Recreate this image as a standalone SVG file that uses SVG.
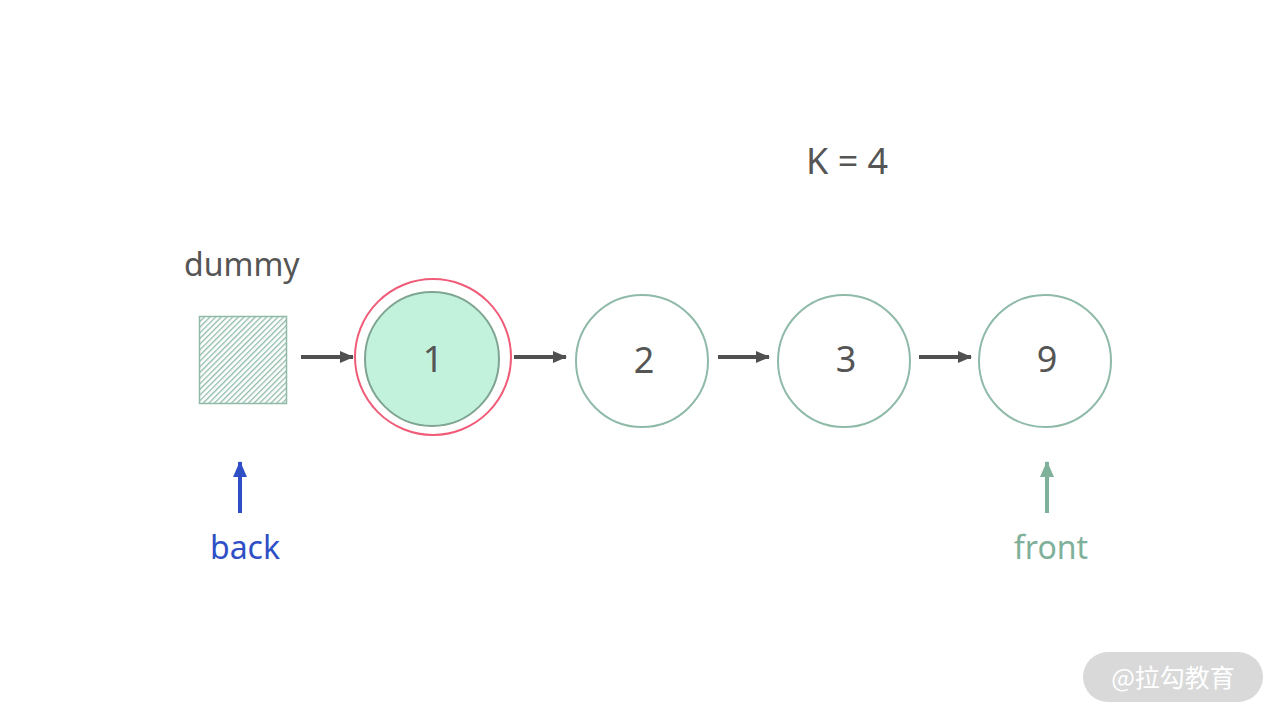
<svg xmlns="http://www.w3.org/2000/svg" width="1280" height="720" viewBox="0 0 1280 720">
<defs>
<pattern id="hatch" patternUnits="userSpaceOnUse" width="4" height="4" patternTransform="rotate(45)">
<rect width="4" height="4" fill="#ffffff"/>
<line x1="0" y1="0" x2="0" y2="4" stroke="#8fbaa8" stroke-width="2.6"/>
</pattern>
<marker id="ah" markerWidth="14" markerHeight="12" refX="13" refY="6" orient="auto" markerUnits="userSpaceOnUse">
<path d="M0,0 L14,6 L0,12 Z" fill="#505050"/>
</marker>
<marker id="ahb" markerWidth="14" markerHeight="16" refX="7" refY="1" orient="0" markerUnits="userSpaceOnUse">
<path d="M7,0 L14,16 L0,16 Z" fill="#2f4fc6"/>
</marker>
<marker id="ahg" markerWidth="14" markerHeight="16" refX="7" refY="1" orient="0" markerUnits="userSpaceOnUse">
<path d="M7,0 L14,16 L0,16 Z" fill="#7fb09a"/>
</marker>
</defs>
<style>
.t{font-family:"Noto Sans","Liberation Sans",sans-serif;fill:#555555}
.node{fill:#ffffff;stroke:#8fbaa8;stroke-width:2}
.lab{font-size:36px;text-anchor:middle}
.conn{stroke:#505050;stroke-width:4;fill:none}
</style>
<rect width="1280" height="720" fill="#ffffff"/>
<text class="t" x="184" y="276" font-size="32">dummy</text>
<text class="t" x="806" y="174" font-size="36">K = 4</text>
<g id="dummy">
<rect x="199.5" y="316.5" width="87" height="87" fill="url(#hatch)" stroke="#8fbaa8" stroke-width="1.5"/>
</g>
<g id="node1">
<circle cx="433" cy="357" r="78" fill="none" stroke="#f05c78" stroke-width="2"/>
<circle cx="432" cy="359" r="67" fill="#c2f2dc" stroke="#7fa592" stroke-width="2"/>
<text class="t lab" x="433" y="372">1</text>
</g>
<g id="node2">
<circle class="node" cx="642" cy="361" r="66"/>
<text class="t lab" x="644" y="373">2</text>
</g>
<g id="node3">
<circle class="node" cx="844" cy="361" r="66"/>
<text class="t lab" x="846" y="372">3</text>
</g>
<g id="node9">
<circle class="node" cx="1045" cy="361" r="66"/>
<text class="t lab" x="1047" y="372">9</text>
</g>
<g id="connectors">
<line class="conn" x1="301" y1="357" x2="353" y2="357" marker-end="url(#ah)"/>
<line class="conn" x1="514" y1="357" x2="566" y2="357" marker-end="url(#ah)"/>
<line class="conn" x1="718" y1="357" x2="769" y2="357" marker-end="url(#ah)"/>
<line class="conn" x1="919" y1="357" x2="971" y2="357" marker-end="url(#ah)"/>
<line x1="240" y1="513" x2="240" y2="462" stroke="#2f4fc6" stroke-width="4" marker-end="url(#ahb)"/>
<line x1="1047" y1="513" x2="1047" y2="462" stroke="#7fb09a" stroke-width="4" marker-end="url(#ahg)"/>
</g>
<g id="back">
<text x="245" y="559" font-size="32" text-anchor="middle" font-family="Noto Sans, Liberation Sans, sans-serif" fill="#2f4fc6">back</text>
</g>
<g id="front">
<text x="1051" y="559" font-size="32" text-anchor="middle" font-family="Noto Sans, Liberation Sans, sans-serif" fill="#7fb09a">front</text>
</g>
<g id="watermark">
<rect x="1083" y="652" width="180" height="50" rx="25" fill="#d9d9d9"/>
<text x="1173" y="687" font-size="25" text-anchor="middle" font-family="Noto Sans CJK SC, sans-serif" fill="#ffffff">@拉勾教育</text>
</g>
</svg>
